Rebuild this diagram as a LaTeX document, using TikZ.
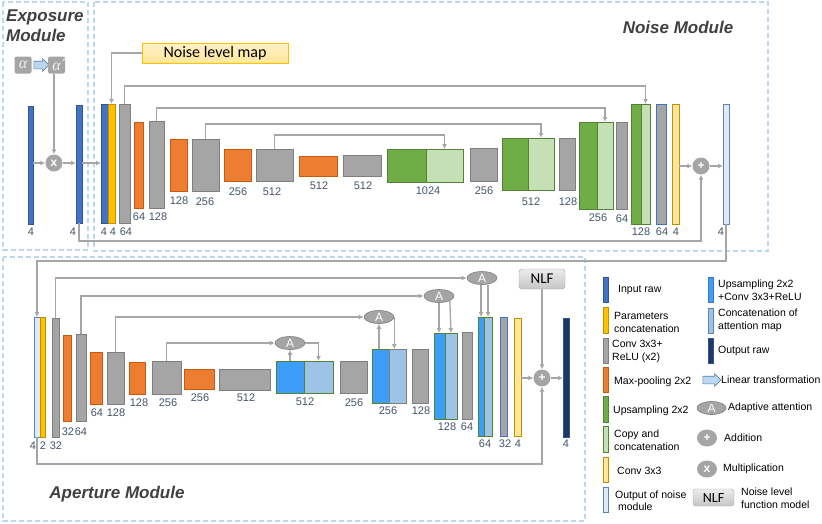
\documentclass[tikz,border=0pt]{standalone}
\usepackage{fontspec}
\setmainfont{Liberation Sans}
\newfontfamily\calib{Carlito}
\newfontfamily\grk{Liberation Serif}
\usetikzlibrary{arrows.meta,shapes.geometric,shapes.arrows}
\tikzset{>={Latex[length=5pt,width=5pt]}}
\definecolor{cgray}{HTML}{A5A5A5}
\definecolor{cgrayd}{HTML}{7F7F7F}
\definecolor{corange}{HTML}{ED7D31}
\definecolor{coranged}{HTML}{C55A11}
\definecolor{cblue}{HTML}{4472C4}
\definecolor{cblued}{HTML}{2F5597}
\definecolor{cyellow}{HTML}{FFC000}
\definecolor{cyellowd}{HTML}{BF9000}
\definecolor{cgreen}{HTML}{70AD47}
\definecolor{cgreend}{HTML}{548235}
\definecolor{clgreen}{HTML}{C5E0B4}
\definecolor{clyellow}{HTML}{FFE699}
\definecolor{clblue}{HTML}{DEEBF7}
\definecolor{clblued}{HTML}{5B82B0}
\definecolor{cbright}{HTML}{3C9EF7}
\definecolor{cattn}{HTML}{9DC3E6}
\definecolor{cnavy}{HTML}{1F3864}
\definecolor{cline}{HTML}{A6A6A6}
\definecolor{cframe}{HTML}{BDD7EE}
\definecolor{cnum}{HTML}{44546A}
\definecolor{ctitle}{HTML}{404040}
\tikzset{
  blk/.style 2 args={draw, line width=0.8pt, inner sep=0pt, outer sep=0pt, anchor=north west, minimum width=#1pt, minimum height=#2pt},
  conv/.style={fill=cgray, draw=cgrayd},
  pool/.style={fill=corange, draw=coranged},
  inraw/.style={fill=cblue, draw=cblued},
  param/.style={fill=cyellow, draw=cyellowd},
  upgreen/.style={fill=cgreen, draw=cgreend},
  copycat/.style={fill=clgreen, draw=cgreend},
  convfin/.style={fill=clyellow, draw=cyellowd},
  noiseout/.style={fill=clblue, draw=clblued},
  upblue/.style={fill=cbright, draw=cgreend},
  attcat/.style={fill=cattn, draw=cgreend},
  convb/.style={fill=cgray, draw=cblue},
  outraw/.style={fill=cnavy, draw=cblued},
  num/.style={text=cnum, inner sep=0pt, font=\fontsize{11}{11}\selectfont},
  conn/.style={draw=cline, line width=1.3pt, ->},
  op/.style={circle, fill=cgray, text=white, inner sep=0pt, minimum size=17pt, font=\bfseries\fontsize{12}{12}\selectfont},
  att/.style={ellipse, fill=cgray, draw=cgrayd, line width=0.6pt, text=white, inner sep=0pt, minimum width=30pt, minimum height=13pt, font=\fontsize{12}{12}\selectfont},
  modframe/.style={draw=cframe, line width=1.3pt, dash pattern=on 5pt off 3pt},
  modtitle/.style={text=ctitle, inner sep=0pt, font=\fontsize{17}{20}\selectfont\bfseries\itshape},
  ltext/.style={anchor=west, align=left, inner sep=0pt, font=\fontsize{10.5}{12.5}\selectfont},
  abox/.style={fill=cgray, rounded corners=2pt, minimum size=17pt, inner sep=0pt, text=white!88!gray, font=\grk\itshape\fontsize{16}{16}\selectfont},
  larr/.style={single arrow, draw=clblued, fill=cframe, line width=0.6pt, minimum height=15pt, single arrow head extend=2.5pt, inner xsep=0pt, inner ysep=3.5pt},
  nlf/.style={draw=cgray, rounded corners=3pt, top color=gray!15, bottom color=gray!45, inner sep=0pt, minimum width=46pt, minimum height=20pt, font=\calib\fontsize{15}{15}\selectfont},
  nlmap/.style={draw=cyellow, line width=0.8pt, top color=clyellow!55, bottom color=clyellow, inner sep=0pt, minimum width=146pt, minimum height=20pt, font=\calib\fontsize{16}{16}\selectfont}
}
\begin{document}
\begin{tikzpicture}[x=1pt,y=-1pt]
\useasboundingbox (0,0) rectangle (822,523);
\draw[modframe] (3,2) rectangle (88,250);
\draw[modframe] (94,2) rectangle (768,251);
\draw[modframe] (3,257) rectangle (585,521);
\node[modtitle, anchor=north west, align=left] (tExp) at (6,10) {Exposure\\Module};
\node[modtitle] (tNoise) at (678,27) {Noise Module};
\node[modtitle] (tAper) at (117,494) {Aperture Module};

\node[blk={5}{118}, inraw] (eIn) at (28,106) {};
\node[op] (eMul) at (54,163) {x};
\node[abox] (eA) at (23,65) {α};
\node[larr] (eArr) at (39.5,65) {};
\node[abox] (eAh) at (56.5,65) {α̂};
\node[blk={6}{118}, inraw] (eOut) at (76,105) {};
\node[num] (el1) at (31,232) {4};
\node[num] (el2) at (73,232) {4};
\draw[conn] (eIn.east |- eMul) -- (eMul);
\draw[conn] (eAh.south -| eMul) -- (eMul);
\draw[conn] (eMul) -- (eMul -| eOut.west);

\node[blk={7}{119}, inraw] (nIn) at (101,104) {};
\node[blk={7}{119}, param] (nPar) at (108,104) {};
\node[blk={11}{119}, conv] (nC1) at (119,104) {};
\node[blk={9}{86}, pool] (nP1) at (134,122) {};
\node[blk={15}{87}, conv] (nC2) at (149,121) {};
\node[blk={17}{52}, pool] (nP2) at (170,139) {};
\node[blk={27}{52}, conv] (nC3) at (192,139) {};
\node[blk={27}{32}, pool] (nP3) at (224,149) {};
\node[blk={37}{32}, conv] (nC4) at (256,149) {};
\node[blk={38}{20}, pool] (nP4) at (299,156) {};
\node[blk={38}{21}, conv] (nC5) at (343,155) {};
\node[blk={39}{33}, upgreen] (nU1) at (387,149) {};
\node[blk={37}{33}, copycat] (nK1) at (426,149) {};
\node[blk={27}{33}, conv] (nC6) at (470,148) {};
\node[blk={26}{52}, upgreen] (nU2) at (502,138) {};
\node[blk={26}{52}, copycat] (nK2) at (528,138) {};
\node[blk={16}{52}, conv] (nC7) at (559,138) {};
\node[blk={18}{87}, upgreen] (nU3) at (579,122) {};
\node[blk={16}{87}, copycat] (nK3) at (597,122) {};
\node[blk={11}{87}, conv] (nC8) at (616,122) {};
\node[blk={10}{120}, upgreen] (nU4) at (631,104) {};
\node[blk={9}{120}, copycat] (nK4) at (641,104) {};
\node[blk={10}{120}, convb] (nC9) at (656,104) {};
\node[blk={7}{120}, convfin] (nF) at (672,104) {};
\node[op] (nAdd) at (701,166) {+};
\node[blk={6}{120}, noiseout] (nOut) at (723,104) {};
\node[nlmap] (nMap) at (215,53) {Noise level map};

\node[num] (nl1) at (104,232) {4};
\node[num] (nl2) at (113,232) {4};
\node[num] (nl3) at (126,232) {64};
\node[num] (nl4) at (139,217) {64};
\node[num] (nl5) at (158,217) {128};
\node[num] (nl6) at (179,201) {128};
\node[num] (nl7) at (205,202) {256};
\node[num] (nl8) at (238,192) {256};
\node[num] (nl9) at (272,192) {512};
\node[num] (nl10) at (319,186) {512};
\node[num] (nl11) at (363,186) {512};
\node[num] (nl12) at (428,191) {1024};
\node[num] (nl13) at (484,191) {256};
\node[num] (nl14) at (531,202) {512};
\node[num] (nl15) at (568,202) {128};
\node[num] (nl16) at (598,218) {256};
\node[num] (nl17) at (622,219) {64};
\node[num] (nl18) at (641,232) {128};
\node[num] (nl19) at (662,232) {64};
\node[num] (nl20) at (676,232) {4};
\node[num] (nl21) at (721,232) {4};

\draw[conn] (eOut.east |- eMul) -- (eMul -| nIn.west);
\draw[conn] (nMap.west) -| (nPar.north);
\draw[conn] (nC1.north) -- ++(0,-18) -| (nK4.north);
\draw[conn] (nC2.north) -- ++(0,-13) -| (nK3.north);
\draw[conn] (nC3.north) -- ++(0,-15) -| (nK2.north);
\draw[conn] (nC4.north) -- ++(0,-14) -| (nK1.north);
\draw[conn] (nF.east |- nAdd) -- (nAdd);
\draw[conn] (nAdd) -- (nAdd -| nOut.west);
\draw[conn] (eOut.south) -- ++(0,18) -| (nAdd.south);

\node[blk={6}{120}, noiseout] (aIn) at (34,317) {};
\node[blk={5}{120}, param] (aPar) at (40,317) {};
\node[blk={7}{119}, conv] (aC1) at (52,318) {};
\node[blk={8}{86}, pool] (aP1) at (63,335) {};
\node[blk={10}{87}, conv] (aC2) at (76,334) {};
\node[blk={12}{52}, pool] (aP2) at (90,352) {};
\node[blk={17}{52}, conv] (aC3) at (107,352) {};
\node[blk={16}{32}, pool] (aP3) at (129,362) {};
\node[blk={29}{33}, conv] (aC4) at (152,361) {};
\node[blk={30}{20}, pool] (aP4) at (184,369) {};
\node[blk={51}{21}, conv] (aC5) at (219,369) {};
\node[blk={28}{32}, upblue] (aU1) at (276,361) {};
\node[blk={29}{32}, attcat] (aK1) at (304,361) {};
\node[blk={27}{32}, conv] (aC6) at (340,361) {};
\node[blk={17}{54}, upblue] (aU2) at (372,349) {};
\node[blk={17}{54}, attcat, draw=cgrayd] (aK2) at (389,349) {};
\node[blk={16}{54}, conv] (aC7) at (412,349) {};
\node[blk={11}{86}, upblue] (aU3) at (434,333) {};
\node[blk={12}{86}, attcat] (aK3) at (445,333) {};
\node[blk={10}{87}, conv] (aC8) at (462,332) {};
\node[blk={6}{119}, upblue] (aU4) at (478,317) {};
\node[blk={8}{119}, attcat] (aK4) at (484,317) {};
\node[blk={7}{119}, convb] (aC9) at (500,317) {};
\node[blk={7}{118}, convfin] (aF) at (514,318) {};
\node[op] (aAdd) at (542,378) {+};
\node[blk={6}{119}, outraw] (aOut) at (563,318) {};
\node[nlf] (aNlf) at (542,279) {NLF};
\node[att] (at1) at (290,343) {A};
\node[att] (at2) at (379,317) {A};
\node[att] (at3) at (439,296) {A};
\node[att] (at4) at (482,278) {A};

\node[num] (al1) at (33,446) {4};
\node[num] (al2) at (43,446) {2};
\node[num] (al3) at (56,446) {32};
\node[num] (al4) at (68,432) {32};
\node[num] (al5) at (81,432) {64};
\node[num] (al6) at (97,413) {64};
\node[num] (al7) at (116,413) {128};
\node[num] (al8) at (139,403) {128};
\node[num] (al9) at (168,403) {256};
\node[num] (al10) at (200,398) {256};
\node[num] (al11) at (246,398) {512};
\node[num] (al12) at (305,402) {512};
\node[num] (al13) at (354,403) {256};
\node[num] (al14) at (388,411) {256};
\node[num] (al15) at (421,411) {128};
\node[num] (al16) at (447,427) {128};
\node[num] (al17) at (467,427) {64};
\node[num] (al18) at (485,444) {64};
\node[num] (al19) at (505,444) {32};
\node[num] (al20) at (518,444) {4};
\node[num] (al21) at (566,444) {4};

\draw[conn] (nOut.south) -- ++(0,37) -| (aIn.north);
\draw[conn] (aC1.north) |- (at4.west);
\draw[conn] (aC2.north) |- (at3.west);
\draw[conn] (aC3.north) |- (at2.west);
\draw[conn] (aC4.north) |- (at1.west);
\draw[conn] (aU1.north -| at1) -- (at1.south);
\draw[conn] (at1.east) -| (aK1.north);
\draw[conn] (aU2.north -| at2) -- (at2.south);
\draw[conn] (at2.east) -- (at2.east |- aK2.north);
\draw[conn] (at3.south) -- (at3.south |- aU3.north);
\draw[conn] (at3.south east) -- (aK3.north);
\draw[conn] (aU4.north |- at4.south) -- (aU4.north);
\draw[conn] (aK4.north |- at4.south) -- (aK4.north);
\draw[conn] (aF.east |- aAdd) -- (aAdd);
\draw[conn] (aAdd) -- (aAdd -| aOut.west);
\draw[conn] (aNlf.south) -- (aAdd.north);
\draw[conn] (aIn.south) -- ++(0,27) -| (aAdd.south);

\node[blk={5}{25}, inraw] (kIn) at (603,277) {};
\node[ltext] (tIn) at (618,290) {Input raw};
\node[blk={5}{26}, param] (kPar) at (603,307) {};
\node[ltext] (tPar) at (614,322.5) {Parameters\\concatenation};
\node[blk={5}{25}, conv] (kConv) at (603,338) {};
\node[ltext] (tConv) at (612,351.5) {Conv 3x3+\\ReLU (x2)};
\node[blk={5}{25}, pool] (kPool) at (603,367) {};
\node[ltext] (tPool) at (614,382) {Max-pooling 2x2};
\node[blk={5}{26}, upgreen] (kUp) at (603,396) {};
\node[ltext] (tUp) at (613,411) {Upsampling 2x2};
\node[blk={5}{26}, copycat] (kCat) at (603,426) {};
\node[ltext] (tCat) at (614,440) {Copy and\\concatenation};
\node[blk={5}{25}, convfin] (kFin) at (603,457) {};
\node[ltext] (tFin) at (617,471) {Conv 3x3};
\node[blk={5}{25}, noiseout] (kNout) at (603,487) {};
\node[ltext] (tNout) at (615,500.5) {Output of noise\\\ module};

\node[blk={5}{25}, upblue, draw=cblue] (kUpb) at (708,277) {};
\node[ltext] (tUpb) at (718,290) {Upsampling 2x2\\+Conv 3x3+ReLU};
\node[blk={5}{25}, attcat, draw=clblued] (kAtt) at (708,308) {};
\node[ltext] (tAtt) at (718,320.5) {Concatenation of\\attention map};
\node[blk={5}{25}, outraw] (kOraw) at (708,338) {};
\node[ltext] (tOraw) at (718,351) {Output raw};
\node[larr, minimum height=18pt] (kLin) at (710,380) {};
\node[ltext] (tLin) at (721,380) {Linear transformation};
\node[att, minimum width=29pt] (kAtn) at (711.5,408) {A};
\node[ltext] (tAtn) at (728,408) {Adaptive attention};
\node[op, ellipse, minimum width=20pt, minimum height=17pt] (kAdd) at (707,438) {+};
\node[ltext] (tAdd) at (724,438) {Addition};
\node[op, ellipse, minimum width=20pt, minimum height=17pt] (kMul) at (707,469) {x};
\node[ltext] (tMul) at (723,469) {Multiplication};
\node[nlf, minimum width=41pt, minimum height=17pt, font=\calib\fontsize{14}{14}\selectfont] (kNlf) at (713.5,497.5) {NLF};
\node[ltext] (tNlf) at (741,498) {Noise level\\function model};
\end{tikzpicture}
\end{document}
